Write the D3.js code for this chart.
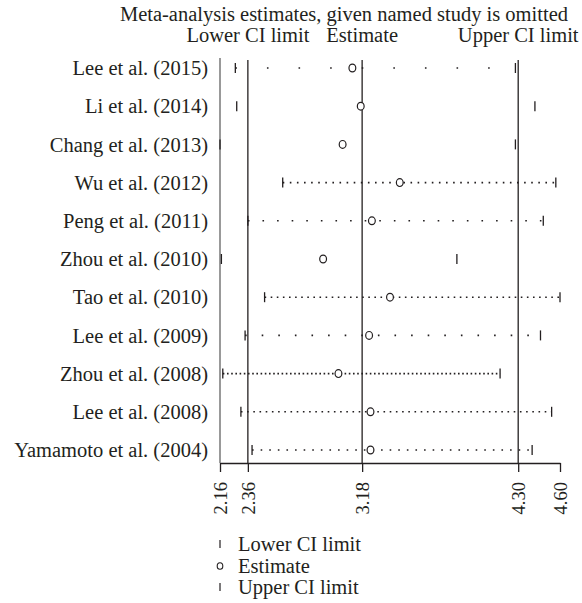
<!DOCTYPE html>
<html>
<head>
<meta charset="utf-8">
<script src="https://cdn.jsdelivr.net/npm/d3@7"></script>
<style>
  html, body { margin: 0; padding: 0; background: #fff; }
  svg { display: block; }
  text { font-family: "Liberation Serif", "DejaVu Serif", serif; fill: #231f20; }
</style>
</head>
<body>
<svg id="chart" width="582" height="603"></svg>
<script>
// Leave-one-out sensitivity analysis: pooled estimate and 95% CI with each study omitted
const studies = [
  "Lee et al. (2015)", "Li et al. (2014)", "Chang et al. (2013)", "Wu et al. (2012)",
  "Peng et al. (2011)", "Zhou et al. (2010)", "Tao et al. (2010)", "Lee et al. (2009)",
  "Zhou et al. (2008)", "Lee et al. (2008)", "Yamamoto et al. (2004)"
];
const lowerCI   = [2.27, 2.28, 2.16, 2.61, 2.36, 2.17, 2.48, 2.34, 2.18, 2.31, 2.39];
const estimates = [3.11, 3.17, 3.04, 3.45, 3.25, 2.90, 3.38, 3.23, 3.01, 3.24, 3.24];
const upperCI   = [4.28, 4.42, 4.28, 4.57, 4.48, 3.86, 4.60, 4.46, 4.17, 4.54, 4.40];

// Overall pooled result (lower limit, estimate, upper limit)
const pooled = [2.36, 3.18, 4.30];
const headerLabels = ["Lower CI limit", "Estimate", "Upper CI limit"];
const tickValues = [2.16, 2.36, 3.18, 4.30, 4.60];
const legendLabels = ["Lower CI limit", "Estimate", "Upper CI limit"];

// Dot spacing for the connector of each row (none where the CI line is not shown)
const connectorDash = [
  "1.6,30", null, null, "1.6,5.5", "1.6,13", null,
  "1.6,4.5", "1.6,15", "1.6,2.6", "1.6,4.6", "1.6,7"
];

const svg = d3.select("#chart");
const plotTop = 60, plotBottom = 463;
const fontSize = "20.5px";

const x = d3.scaleLinear().domain([2.16, 4.60]).range([220, 560]);
const y = d3.scalePoint().domain(studies).range([68, 450]);

// Title and column headers
svg.append("text")
  .attr("x", 568).attr("y", 21)
  .attr("text-anchor", "end")
  .style("font-size", fontSize)
  .text("Meta-analysis estimates, given named study is omitted");

const headerG = svg.append("g");
headerLabels.forEach((lab, i) => {
  const t = headerG.append("text")
    .attr("y", 42)
    .style("font-size", fontSize)
    .text(lab);
  const w = t.node().getComputedTextLength();
  let cx = x(pooled[i]);
  cx = Math.min(cx, 579 - w / 2);
  t.attr("x", cx - w / 2);
});

// Left frame line
svg.append("line")
  .attr("x1", x(2.16)).attr("x2", x(2.16))
  .attr("y1", plotTop - 2).attr("y2", plotBottom)
  .attr("stroke", "#555").attr("stroke-width", 1.2);

// Reference lines at the pooled values
svg.append("g").selectAll("line")
  .data(pooled)
  .join("line")
  .attr("x1", d => x(d)).attr("x2", d => x(d))
  .attr("y1", plotTop).attr("y2", plotBottom)
  .attr("stroke", "#231f20").attr("stroke-width", 1.3);

// Row labels
svg.append("g").selectAll("text")
  .data(studies)
  .join("text")
  .attr("x", 208)
  .attr("y", d => y(d))
  .attr("dy", "0.35em")
  .attr("text-anchor", "end")
  .style("font-size", fontSize)
  .text(d => d);

const rows = studies.map((s, i) => ({
  study: s, lo: lowerCI[i], est: estimates[i], hi: upperCI[i], dash: connectorDash[i]
}));

// Dotted connectors
svg.append("g").selectAll("line")
  .data(rows.filter(r => r.dash))
  .join("line")
  .attr("x1", d => x(d.lo)).attr("x2", d => x(d.hi))
  .attr("y1", d => y(d.study)).attr("y2", d => y(d.study))
  .attr("stroke", "#231f20").attr("stroke-width", 1.6)
  .attr("stroke-dasharray", d => d.dash);

// CI limit ticks
const tickH = 5;
svg.append("g").selectAll("line")
  .data(rows.flatMap(r => [{ v: r.lo, s: r.study }, { v: r.hi, s: r.study }]))
  .join("line")
  .attr("x1", d => x(d.v)).attr("x2", d => x(d.v))
  .attr("y1", d => y(d.s) - tickH).attr("y2", d => y(d.s) + tickH)
  .attr("stroke", "#231f20").attr("stroke-width", 1.3);

// Estimates
svg.append("g").selectAll("ellipse")
  .data(rows)
  .join("ellipse")
  .attr("cx", d => x(d.est)).attr("cy", d => y(d.study))
  .attr("rx", 3.4).attr("ry", 3.9)
  .attr("fill", "#fff").attr("stroke", "#231f20").attr("stroke-width", 1.2);

// Bottom axis
const axis = d3.axisBottom(x)
  .tickValues(tickValues)
  .tickFormat(d3.format(".2f"))
  .tickSize(9)
  .tickSizeOuter(0);
const axG = svg.append("g")
  .attr("transform", `translate(0,${plotBottom})`)
  .call(axis);
axG.select(".domain").attr("stroke", "#231f20").attr("stroke-width", 1.3);
axG.selectAll(".tick line").attr("stroke", "#231f20").attr("stroke-width", 1.3);
axG.selectAll(".tick text")
  .attr("transform", "rotate(-90)")
  .attr("x", -19).attr("y", 0).attr("dy", "0.35em")
  .attr("text-anchor", "end")
  .style("font-size", "18.5px")
  .style("font-family", "'Liberation Serif', serif")
  .attr("fill", "#231f20");

// Legend
const legendY = [544, 566, 587];
const lg = svg.append("g");
legendLabels.forEach((lab, i) => {
  const cy = legendY[i];
  if (i === 1) {
    lg.append("ellipse").attr("cx", 220).attr("cy", cy)
      .attr("rx", 2.8).attr("ry", 3.3)
      .attr("fill", "#fff").attr("stroke", "#231f20").attr("stroke-width", 1.1);
  } else {
    lg.append("line").attr("x1", 220).attr("x2", 220)
      .attr("y1", cy - 4).attr("y2", cy + 4)
      .attr("stroke", "#231f20").attr("stroke-width", 1.2);
  }
  lg.append("text")
    .attr("x", 238).attr("y", cy).attr("dy", "0.35em")
    .style("font-size", fontSize)
    .text(lab);
});
</script>
</body>
</html>
